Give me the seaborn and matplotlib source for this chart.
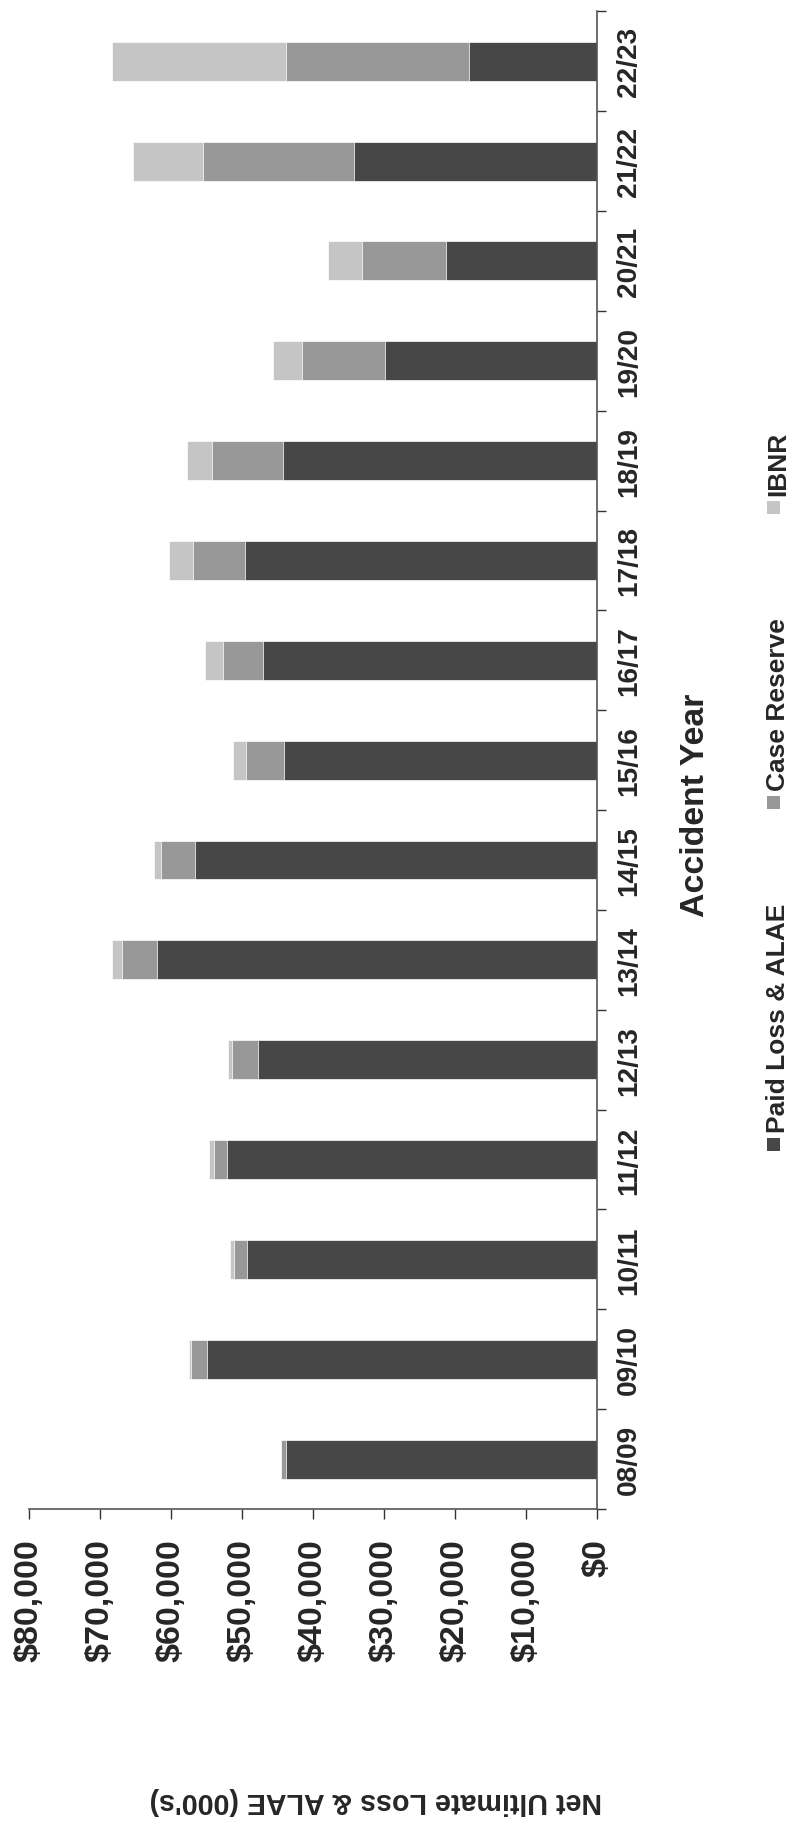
import numpy as np
import pandas as pd
import matplotlib
matplotlib.use("Agg")
import matplotlib.pyplot as plt
from matplotlib.ticker import FuncFormatter
import seaborn as sns

# Net ultimate loss by accident year, $000's
years = ['08/09', '09/10', '10/11', '11/12', '12/13', '13/14', '14/15', '15/16',
         '16/17', '17/18', '18/19', '19/20', '20/21', '21/22', '22/23']
paid = [43800, 54900, 49200, 52100, 47700, 62000, 56600, 44100,
        47000, 49500, 44200, 29800, 21200, 34200, 18000]
case_reserve = [600, 2300, 1900, 1800, 3700, 4900, 4800, 5300,
                5600, 7400, 10000, 11700, 11800, 21300, 25700]
ibnr = [50, 200, 550, 700, 550, 1300, 1000, 1800,
        2500, 3300, 3500, 4100, 4800, 9800, 24500]

series_names = ['Paid Loss & ALAE', 'Case Reserve', 'IBNR']
series_colors = ['#474747', '#989898', '#c5c5c5']
value_ticks = [0, 10000, 20000, 30000, 40000, 50000, 60000, 70000, 80000]

sns.set_style('white')
plt.rcParams['font.family'] = ['Liberation Sans', 'DejaVu Sans']
plt.rcParams['font.weight'] = 'bold'

df = pd.DataFrame({'year': years, 'paid': paid, 'case': case_reserve, 'ibnr': ibnr})
df['lvl1'] = df['paid']
df['lvl2'] = df['paid'] + df['case']
df['lvl3'] = df['lvl2'] + df['ibnr']

W, H = 787, 1824
fig = plt.figure(figsize=(W / 100, H / 100), dpi=100)
fig.patch.set_facecolor('white')

ax_l, ax_r, ax_t, ax_b = 28.7, 596.7, 12.3, 1510.0
ax = fig.add_axes([ax_l / W, 1 - ax_b / H, (ax_r - ax_l) / W, (ax_b - ax_t) / H])

order = years[::-1]
# stacked bars: draw the running totals from largest to smallest
for col, color in zip(['lvl3', 'lvl2', 'lvl1'], series_colors[::-1]):
    sns.barplot(data=df, x=col, y='year', order=order, orient='h', color=color,
                saturation=1, width=0.39, edgecolor='white', linewidth=0.5, ax=ax)

ax.set_xlim(80000, 0)
ax.set_ylim(len(years) - 0.5, -0.5)
ax.set_xlabel('')
ax.set_ylabel('')

# value axis (bottom)
ax.set_xticks(value_ticks)
ax.xaxis.set_major_formatter(FuncFormatter(lambda v, p: f"${v:,.0f}"))
ax.tick_params(axis='x', direction='out', length=7.2, width=1.0, color='#333333',
               labelrotation=90, labelsize=24.5, pad=14, bottom=True)
for lab in ax.get_xticklabels():
    lab.set_fontweight('bold')

# category axis (right)
ax.yaxis.tick_right()
ax.set_yticks(np.arange(len(years)))
ax.set_yticklabels(order)
ax.set_yticks(np.arange(-0.5, len(years), 1.0), minor=True)
ax.tick_params(axis='y', which='major', length=0, labelsize=20.2, pad=14,
               labelrotation=90, right=True, left=False)
ax.tick_params(axis='y', which='minor', direction='out', length=6.5, width=1.0,
               color='#333333', right=True, left=False)
for lab in ax.get_yticklabels():
    lab.set_fontweight('bold')
    lab.set_verticalalignment('center')

for side in ['top', 'left']:
    ax.spines[side].set_visible(False)
for side in ['bottom', 'right']:
    ax.spines[side].set_visible(True)
    ax.spines[side].set_color('#555555')
    ax.spines[side].set_linewidth(1.2)

# axis titles
fig.text(376 / W, 1 - 1801 / H, "Net Ultimate Loss & ALAE (000's)", rotation=180,
         ha='center', va='center', fontsize=20.6, fontweight='bold')
fig.text(695 / W, 1 - 805 / H, 'Accident Year', rotation=90,
         ha='center', va='center', fontsize=24.4, fontweight='bold')

# legend, laid out along the right edge
legend_marker_y = [1145, 803, 508]
for name, color, my in zip(series_names, series_colors, legend_marker_y):
    size = 13
    fig.patches.append(plt.Rectangle(((773 - size / 2) / W, 1 - (my + size / 2) / H),
                                     size / W, size / H, transform=fig.transFigure,
                                     facecolor=color, edgecolor='none'))
    fig.text(785 / W, 1 - (my - 12) / H, name, rotation=90, rotation_mode='anchor',
             ha='left', va='baseline', fontsize=19, fontweight='bold')

fig.savefig('out.png', dpi=100, facecolor='white')
